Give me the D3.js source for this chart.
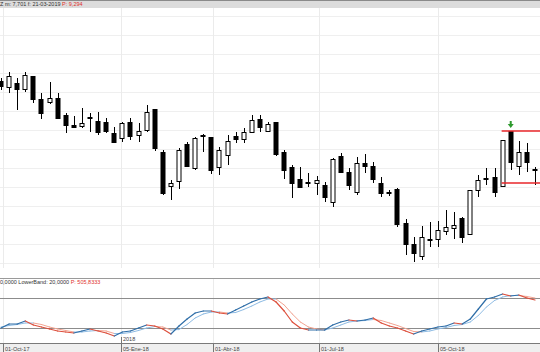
<!DOCTYPE html>
<html lang="en">

<head>
    <meta charset="UTF-8">
    <title>Weekly candles + stochastic</title>
    <style>
        body {
            margin: 0;
            background-color: #fff;
        }

        svg {
            display: block;
            font-family: "Liberation Sans", Arial, sans-serif;
        }
    </style>
</head>

<body>
    <div id="chart"></div>
    <script src="https://d3js.org/d3.v7.min.js"></script>
    <script>

        // weekly candles, price in chart units
        const opens = [219, 213, 217, 211, 224, 201, 198, 202, 185, 175, 174, 183, 179, 178, 167, 162, 178, 165, 170, 191,
            148, 114, 119, 156, 132, 164, 163, 133, 145, 164, 161, 168, 181, 169, 178, 148, 133, 121, 117, 117,
            115, 98, 144, 128, 108, 137, 134, 117, 107, 111, 77, 56, 44, 60, 61, 69, 72, 82, 66, 110,
            121, 123, 114, 169, 134, 148, 131];
        const highs = [222, 228, 222, 228, 224, 207, 218, 207, 187, 184, 192, 187, 188, 182, 173, 178, 182, 177, 195, 191,
            150, 120, 152, 158, 163, 166, 163, 153, 165, 168, 172, 185, 185, 178, 178, 150, 135, 133, 127, 124,
            118, 142, 147, 132, 143, 146, 138, 123, 110, 112, 81, 63, 74, 78, 79, 90, 88, 83, 110, 125,
            132, 132, 160, 169, 159, 157, 133];
        const lows = [210, 207, 190, 208, 197, 181, 196, 181, 167, 172, 172, 168, 165, 167, 157, 158, 160, 158, 168, 149,
            105, 100, 111, 133, 130, 148, 126, 125, 135, 157, 157, 167, 168, 168, 144, 121, 102, 112, 113, 105,
            98, 93, 127, 110, 105, 127, 117, 103, 104, 73, 45, 38, 40, 53, 53, 65, 61, 57, 65, 103,
            115, 103, 113, 130, 125, 128, 115];
        const closes = [214, 224, 211, 225, 201, 187, 202, 182, 175, 173, 177, 182, 168, 169, 158, 177, 164, 169, 188, 152,
            107, 117, 150, 134, 162, 165, 130, 150, 159, 161, 168, 180, 173, 176, 146, 130, 117, 113, 118, 120,
            103, 141, 128, 115, 137, 134, 121, 107, 108, 76, 56, 47, 63, 61, 70, 73, 75, 63, 110, 120,
            122, 108, 160, 138, 148, 138, 130];

        // stochastic (%K and signal), one value per week
        const stochK = [20, 28, 28, 34, 26, 22, 18, 14, 12, 10, 14, 18, 14, 10, 4, 12, 14, 20, 26, 24,
            18, 8, 24, 38, 50, 54, 54, 50, 48, 56, 64, 72, 78, 82, 72, 54, 32, 20, 16, 16,
            16, 26, 32, 36, 34, 36, 40, 30, 24, 20, 14, 8, 14, 18, 22, 24, 30, 28, 38, 58,
            78, 82, 88, 84, 86, 80, 76];
        const stochD = [22, 25, 27, 30, 30, 27, 22, 18, 15, 12, 12, 14, 15, 14, 9, 9, 11, 15, 20, 23,
            22, 16, 17, 27, 40, 48, 52, 52, 50, 51, 57, 64, 72, 78, 78, 66, 48, 32, 22, 18,
            16, 20, 26, 32, 34, 35, 37, 35, 30, 25, 19, 13, 12, 14, 18, 21, 25, 27, 32, 45,
            62, 75, 82, 85, 85, 83, 80];
        const bands = [80, 20];

        // date axis (position given in weeks from the first candle)
        const dateTicks = [
            { label: "01-Oct-17", week: 0.25 },
            { label: "05-Ene-18", week: 14.8 },
            { label: "01-Abr-18", week: 26.2 },
            { label: "01-Jul-18", week: 39.3 },
            { label: "05-Oct-18", week: 54.0 }
        ];
        const yearMark = { label: "2018", week: 14.8 };

        // price grid levels
        const priceGrid = [284, 265, 246, 227, 208, 189, 170, 151, 132, 113, 94, 75, 56, 37];

        // support / resistance drawn from week 62
        const boxFrom = 62, boxTop = 169, boxBottom = 117;
        const signalWeek = 63;

        const W = 540, H = 352;
        const n = closes.length;

        const svg = d3.select("#chart")
            .append("svg")
            .attr("width", W)
            .attr("height", H);

        const x = d3.scaleLinear().domain([0, n - 1]).range([1, 535]);
        const y = d3.scaleLinear().domain([32, 292]).range([268, 8]);
        const yo = d3.scaleLinear().domain([20, 80]).range([328, 298]);

        // ---- header strip
        svg.append("rect").attr("x", 0).attr("y", 0).attr("width", W).attr("height", 8).attr("fill", "#dcdcdc");
        svg.append("line").attr("x1", 0).attr("x2", W).attr("y1", 0.5).attr("y2", 0.5).attr("stroke", "#8a8a8a");
        const head = svg.append("text").attr("x", 0).attr("y", 6).style("font-size", "5.5px").attr("fill", "#333");
        head.append("tspan").text("Z  m: 7,701  f: 21-03-2019  ");
        head.append("tspan").attr("fill", "#e0302c").text("P: 9,294");

        // ---- main panel grid
        svg.append("g")
            .selectAll("line")
            .data(priceGrid)
            .join("line")
            .attr("x1", 0).attr("x2", W)
            .attr("y1", d => Math.round(y(d)) + 0.5)
            .attr("y2", d => Math.round(y(d)) + 0.5)
            .attr("stroke", "#efefef");

        const vgrid = svg.append("g");
        [[8, 268], [279, 343]].forEach(function (r) {
            vgrid.selectAll(null)
                .data(dateTicks)
                .join("line")
                .attr("x1", d => Math.round(x(d.week)) + 0.5)
                .attr("x2", d => Math.round(x(d.week)) + 0.5)
                .attr("y1", r[0]).attr("y2", r[1])
                .attr("stroke", "#ebebeb");
        });

        // ---- candles
        const idx = d3.range(n);
        const bw = 5;
        const candles = svg.append("g");
        candles.selectAll("line")
            .data(idx)
            .join("line")
            .attr("x1", i => Math.round(x(i)) + 0.5)
            .attr("x2", i => Math.round(x(i)) + 0.5)
            .attr("y1", i => y(highs[i]))
            .attr("y2", i => y(lows[i]))
            .attr("stroke", "#000");
        candles.selectAll("rect")
            .data(idx)
            .join("rect")
            .attr("x", i => Math.round(x(i)) - (bw - 1) / 2)
            .attr("y", i => Math.round(y(Math.max(opens[i], closes[i]))) + 0.5)
            .attr("width", bw - 1)
            .attr("height", i => Math.max(1, Math.abs(y(opens[i]) - y(closes[i]))))
            .attr("fill", i => closes[i] >= opens[i] ? "#fff" : "#000")
            .attr("stroke", "#000")
            .attr("stroke-width", 1);

        // red box lines
        svg.append("g")
            .selectAll("line")
            .data([boxTop, boxBottom])
            .join("line")
            .attr("x1", x(boxFrom) - 1).attr("x2", W)
            .attr("y1", d => y(d)).attr("y2", d => y(d))
            .attr("stroke", "#e8262a")
            .attr("stroke-width", 1.3);

        // green arrow over the signal week
        const ax = x(signalWeek), ay = y(highs[signalWeek]) - 2;
        svg.append("path")
            .attr("d", `M${ax - 1},${ay - 8} h2 v3 h2 l-3,4 l-3,-4 h2 z`)
            .attr("fill", "#2e9a2e");

        // ---- stochastic panel
        svg.append("line").attr("x1", 0).attr("x2", W).attr("y1", 278.5).attr("y2", 278.5).attr("stroke", "#9a9a9a");
        svg.append("g")
            .selectAll("line")
            .data(bands)
            .join("line")
            .attr("x1", 0).attr("x2", W)
            .attr("y1", d => Math.round(yo(d)) + 0.5)
            .attr("y2", d => Math.round(yo(d)) + 0.5)
            .attr("stroke", "#8c8c8c");

        const lab = svg.append("text").attr("x", 0).attr("y", 284).style("font-size", "5.5px").attr("fill", "#333");
        lab.append("tspan").text("0,0000  LowerBand: 20,0000  ");
        lab.append("tspan").attr("fill", "#e0302c").text("P: 505,8333");

        function drawSeries(vals, up, down, width) {
            svg.append("g")
                .selectAll("line")
                .data(d3.range(vals.length - 1))
                .join("line")
                .attr("x1", i => x(i)).attr("y1", i => yo(vals[i]))
                .attr("x2", i => x(i + 1)).attr("y2", i => yo(vals[i + 1]))
                .attr("stroke", i => vals[i + 1] >= vals[i] ? up : down)
                .attr("stroke-width", width)
                .attr("stroke-linecap", "round");
        }
        drawSeries(stochD, "#8fbce4", "#f2a492", 1);
        drawSeries(stochK, "#2f6ea8", "#dd4f3c", 1.2);

        // ---- date axis
        svg.append("rect").attr("x", 0).attr("y", 343).attr("width", W).attr("height", 9).attr("fill", "#efefef");
        svg.append("line").attr("x1", 0).attr("x2", W).attr("y1", 343.5).attr("y2", 343.5).attr("stroke", "#7a7a7a");
        const ax2 = svg.append("g");
        ax2.selectAll("line")
            .data(dateTicks)
            .join("line")
            .attr("x1", d => Math.round(x(d.week)) + 0.5)
            .attr("x2", d => Math.round(x(d.week)) + 0.5)
            .attr("y1", 344).attr("y2", 352)
            .attr("stroke", "#777");
        ax2.selectAll("text")
            .data(dateTicks)
            .join("text")
            .attr("x", d => Math.round(x(d.week)) + 2)
            .attr("y", 350.5)
            .style("font-size", "5.5px")
            .attr("fill", "#444")
            .text(d => d.label);

        svg.append("line")
            .attr("x1", Math.round(x(yearMark.week)) + 0.5).attr("x2", Math.round(x(yearMark.week)) + 0.5)
            .attr("y1", 337).attr("y2", 343)
            .attr("stroke", "#777");
        svg.append("text")
            .attr("x", Math.round(x(yearMark.week)) + 2)
            .attr("y", 341)
            .style("font-size", "5.5px")
            .attr("fill", "#444")
            .text(yearMark.label);

    </script>
</body>

</html>
